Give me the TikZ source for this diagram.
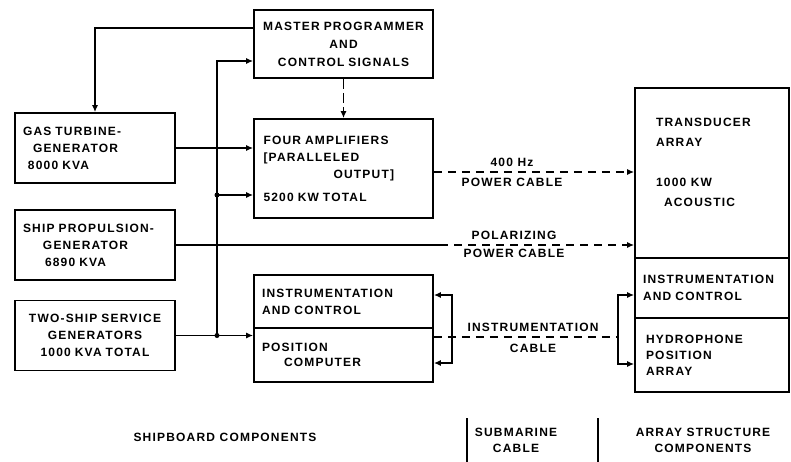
\documentclass[tikz,border=0pt]{standalone}
\usepackage{fontspec}
\setmainfont{Liberation Sans}[LetterSpace=10.0]
\usepackage{tikz}
\usetikzlibrary{positioning,arrows.meta}

\begin{document}
\begin{tikzpicture}[x=1pt, y=-1pt, >={Latex[length=7pt,width=6pt]}, line width=1.7pt,
   font=\fontsize{12}{17}\selectfont\bfseries,
   box/.style={draw, rectangle, line width=1.7pt, inner sep=0pt, minimum width=160pt, minimum height=70pt, text width=144pt, align=left},
   boxwide/.style={draw, rectangle, line width=1.7pt, inner sep=0pt, minimum width=179pt, text width=160pt, align=left},
   boxarray/.style={draw, rectangle, line width=1.7pt, inner sep=0pt, minimum width=154pt, text width=138pt, align=left},
   lbl/.style={align=center, inner sep=0pt},
   cable/.style={dash pattern=on 8pt off 6pt}
]
\useasboundingbox (0,0) rectangle (791,462);

% Nodes
\node [box] (gas) at (95,148) {GAS TURBINE-\\ \hspace*{10pt}GENERATOR\\ \hspace*{5pt}8000 KVA};
\node [box] (prop) at (95,245) {SHIP PROPULSION-\\ \hspace*{20pt}GENERATOR\\ \hspace*{22pt}6890 KVA};
\node [box, align=center] (two) at (95,335.5) {TWO-SHIP SERVICE\\GENERATORS\\1000 KVA TOTAL};

\node [boxwide, minimum height=68pt, text width=177pt, align=center, font=\fontsize{12}{18}\selectfont\bfseries] (master) at (343.5,44) {MASTER PROGRAMMER\\AND\\CONTROL SIGNALS};
\node [boxwide, minimum height=99pt] (amps) at (343.5,168.5) {FOUR AMPLIFIERS\\ {[}PARALLELED\\ \hspace*{70pt}OUTPUT{]}\\[6pt]5200 KW TOTAL};
\node [boxwide, minimum height=53pt, text width=163pt] (instc) at (343.5,301.5) {INSTRUMENTATION\\AND CONTROL};
\node [boxwide, minimum height=54pt, text width=163pt, font=\fontsize{12}{15}\selectfont\bfseries] (poscomp) at (343.5,355) {POSITION\\ \hspace*{22pt}COMPUTER};

\node [boxarray, minimum height=170pt] (trans) at (712,173) {};
\node [align=left, inner sep=0pt, anchor=north west, font=\fontsize{12}{20}\selectfont\bfseries] (transtext) at ([xshift=21pt,yshift=-30pt]trans.north west) {TRANSDUCER\\ARRAY\\[20pt]1000 KW\\ \hspace*{8pt}ACOUSTIC};
\node [boxarray, minimum height=60pt] (instr) at (712,288) {INSTRUMENTATION\\AND CONTROL};
\node [boxarray, minimum height=74pt, text width=132pt, font=\fontsize{12}{16}\selectfont\bfseries] (hydro) at (712,355) {HYDROPHONE\\POSITION\\ARRAY};

\coordinate (bus) at (217,0);
\coordinate (split) at (440,0);
\coordinate (lbr) at (452,0);
\coordinate (rbr) at (618,0);

% Cable labels
\node [lbl, font=\fontsize{12}{20}\selectfont\bfseries] (pwrlbl) at (512,172) {400 Hz\\POWER CABLE};
\node [lbl, font=\fontsize{12}{18}\selectfont\bfseries] (pollbl) at (514,244) {POLARIZING\\POWER CABLE};
\node [lbl, font=\fontsize{12}{21}\selectfont\bfseries] (instlbl) at (533,337.5) {INSTRUMENTATION\\CABLE};

% Footer
\node [lbl] (shiplbl) at (225,437) {SHIPBOARD COMPONENTS};
\node [lbl, font=\fontsize{12}{16}\selectfont\bfseries] (sublbl) at (516,440) {SUBMARINE\\CABLE};
\node [lbl, font=\fontsize{12}{16}\selectfont\bfseries] (arrlbl) at (703,440) {ARRAY STRUCTURE\\COMPONENTS};
\draw (467,418) -- (467,462);
\draw (598,418) -- (598,462);

% Arrows
\draw[->] ([yshift=16pt]master.west) -| (gas.north);
\draw[->] (two.east) -- (two.east -| poscomp.west);
\draw[->] (two.east -| bus) |- ([yshift=-17pt]master.west);
\coordinate (jamp) at ([yshift=-26.5pt]amps.west -| bus);
\draw[->] (jamp) -- ([yshift=-26.5pt]amps.west);
\fill (jamp) circle (2.5pt);
\fill (two.east -| bus) circle (2.5pt);
\draw[->] (gas.east) -- (gas.east -| amps.west);
\draw[->, dash pattern=on 10pt off 4pt] (master.south) -- (amps.north);
\draw[->, cable] ([yshift=-3.5pt]amps.east) -- ([yshift=-3.5pt]amps.east -| trans.west);
\draw (prop.east) -- (prop.east -| split);
\draw[->, cable] (prop.east -| split) -- (prop.east -| trans.west);
\draw[<->] ([yshift=6.5pt]instc.east) -| ([yshift=-8pt]poscomp.east -| lbr) -- ([yshift=-8pt]poscomp.east);
\draw[cable] ([yshift=18pt]poscomp.east) -- ([yshift=18pt]poscomp.east -| rbr);
\draw[<->] ([yshift=-7pt]instr.west) -| ([yshift=-9pt]hydro.west -| rbr) -- ([yshift=-9pt]hydro.west);
\end{tikzpicture}
\end{document}
